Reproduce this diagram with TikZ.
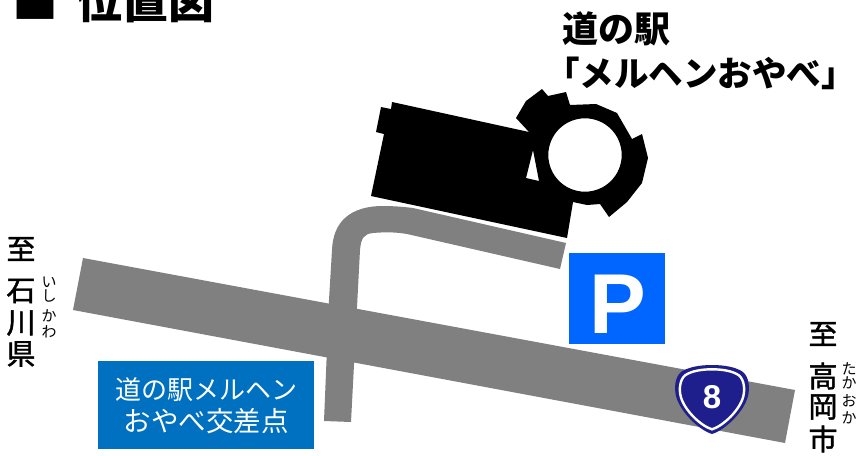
\documentclass[tikz,border=0pt]{standalone}
\usepackage{fontspec}
\newfontfamily\cjk{Noto Sans CJK JP}
\newfontfamily\cjkm[FakeBold=1.5]{Noto Sans CJK JP}
\setsansfont{Liberation Sans}
\definecolor{roadgray}{RGB}{128,128,128}
\definecolor{pblue}{RGB}{0,102,255}
\definecolor{boxblue}{RGB}{0,112,192}
\definecolor{shieldblue}{RGB}{30,30,140}
\newcommand{\shieldshape}{(0,-33) .. controls (12,-33) and (24,-31) .. (31,-26) .. controls (37,-21) and (38,-10) .. (36,-2)
  .. controls (32,14) and (13,32) .. (0,36) .. controls (-13,32) and (-32,14) .. (-36,-2)
  .. controls (-38,-10) and (-37,-21) .. (-31,-26) .. controls (-24,-31) and (-12,-33) .. (0,-33) -- cycle}
\tikzset{
  x=1pt,y=-1pt,
  road/.style={fill=roadgray,draw=none},
  mass/.style={fill=black,draw=none},
  big/.style={inner sep=0pt,anchor=center,font=\cjkm\fontsize{29}{29}\selectfont},
  ruby/.style={inner sep=0pt,anchor=center,font=\cjk\fontsize{15}{15}\selectfont},
  heading/.style={inner sep=0pt,anchor=base west,font=\cjk\bfseries\fontsize{36}{36}\selectfont},
}
\begin{document}
\begin{tikzpicture}
\useasboundingbox (0,0) rectangle (859,455);
\clip (0,0) rectangle (859,455);
% roads
\fill[road] (83,258) -- (795,390) -- (785,443) -- (73,310) -- cycle;
\fill[road] (324,421) -- (329,300) -- (332,250) .. controls (333,222) and (350,206) .. (383,206)
  .. controls (395,206) and (405,207) .. (413,208) -- (566,243) -- (560,269) -- (407,234)
  .. controls (395,232) and (385,232) .. (373,233) .. controls (364,234) and (361,238) .. (360,250)
  -- (351,422) -- cycle;
% building and tower
\fill[mass,even odd rule] (392,102) -- (529,132) -- (516,118) -- (526,101) -- (542,89) -- (548,96) -- (566,92) -- (570,105)
  -- (596,104) -- (617,113) -- (632,139) -- (642,134) -- (648,158) -- (642,183) -- (627,202) -- (609,217)
  -- (600,204) -- (587,205) -- (573,202) -- (567,238) -- (371,196) -- (384,134) -- (376,132) -- (381,107) -- (391,109) -- cycle
  (585,155) circle [radius=36.7]
  (533,150) -- (526,178) -- (539,181) -- cycle;
% parking
\node[fill=pblue,minimum width=96pt,minimum height=91pt,inner sep=0pt,anchor=north west] (park) at (569,253) {};
\node[inner sep=0pt,text=white,font=\sffamily\bfseries\fontsize{85}{85}\selectfont] (parkp) at (618,304) {P};
% crossing label
\node[fill=boxblue,minimum width=216pt,minimum height=88pt,inner sep=0pt,anchor=north west] (cross) at (98,361) {};
\node[text=white,align=center,inner sep=0pt,font=\cjk\fontsize{26}{32}\selectfont] (crosst) at (206,406) {道の駅メルヘン\\\fontsize{27.5}{32}\selectfont おやべ交差点};
% route shield
\fill[shieldblue,shift={(712,398)}] \shieldshape;
\draw[white,line width=2.4pt,shift={(712,398)},scale=.87] \shieldshape;
\node[text=white,inner sep=0pt,font=\sffamily\bfseries\fontsize{33}{33}\selectfont] (eight) at (712,397) {8};
% headings
\node[heading,font=\cjk\bfseries\fontsize{46}{46}\selectfont] (title) at (12,18) {■\hspace{18pt}位置図};
\node[heading] (st1) at (562,42) {道の駅};
\node[heading,font=\cjk\bfseries\fontsize{34.5}{34.5}\selectfont] (st2) at (545,86) {「メルヘンおやべ」};
% left direction
\node[big] (l1) at (21,249) {至};
\node[big] (l2) at (21,291) {石};
\node[big] (l3) at (21,323) {川};
\node[big] (l4) at (21,354) {県};
\node[ruby] (lr1) at (49,282) {い};
\node[ruby] (lr2) at (49,296) {し};
\node[ruby] (lr3) at (49,316) {か};
\node[ruby] (lr4) at (49,332) {わ};
% right direction
\node[big] (r1) at (823,334) {至};
\node[big] (r2) at (823,376) {高};
\node[big] (r3) at (823,407) {岡};
\node[big] (r4) at (823,439) {市};
\node[ruby] (rr1) at (849,369) {た};
\node[ruby] (rr2) at (849,383) {か};
\node[ruby] (rr3) at (849,401) {お};
\node[ruby] (rr4) at (849,418) {か};
\end{tikzpicture}
\end{document}
